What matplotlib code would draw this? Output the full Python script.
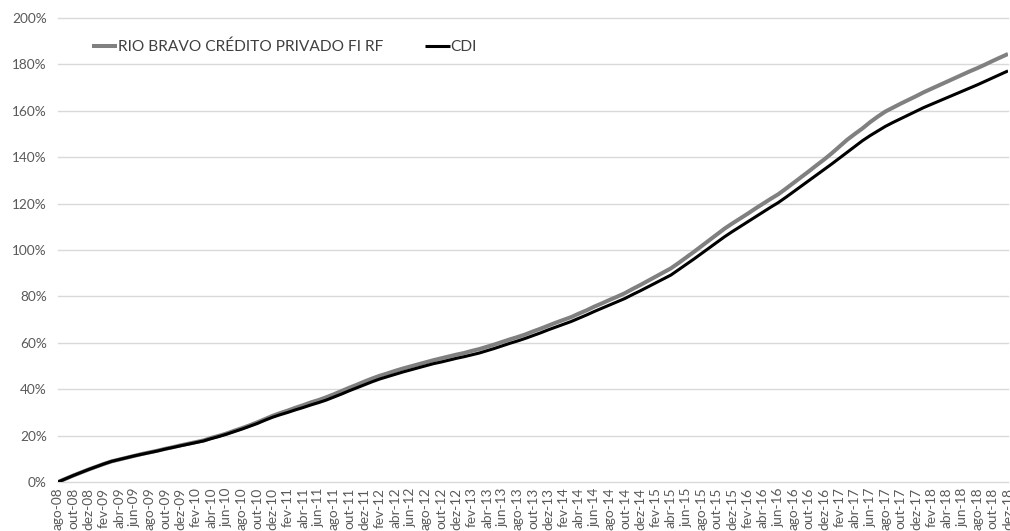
import matplotlib
matplotlib.use("Agg")
import matplotlib.pyplot as plt

plt.rcParams['font.family'] = ['Lato', 'DejaVu Sans']

month_abbr = ["jan", "fev", "mar", "abr", "mai", "jun", "jul", "ago", "set", "out", "nov", "dez"]
# monthly categories ago-08 .. dez-18
categories = []
for yr in range(2008, 2019):
    for mi, mn in enumerate(month_abbr):
        if yr == 2008 and mi < 7:
            continue
        categories.append(f"{mn}-{str(yr)[2:]}")

cdi = [0, 1.4, 2.8, 4.1, 5.4, 6.6, 7.8, 8.9, 9.7, 10.5,
       11.3, 12.0, 12.7, 13.4, 14.2, 14.9, 15.6, 16.3, 17.0, 17.7,
       18.7, 19.6, 20.6, 21.7, 22.8, 24.0, 25.2, 26.6, 27.9, 29.0,
       30.0, 31.1, 32.1, 33.2, 34.2, 35.3, 36.6, 37.9, 39.3, 40.6,
       41.9, 43.2, 44.4, 45.4, 46.4, 47.4, 48.3, 49.2, 50.1, 51.0,
       51.7, 52.5, 53.3, 54.0, 54.8, 55.6, 56.6, 57.6, 58.7, 59.8,
       60.8, 61.9, 63.1, 64.3, 65.6, 66.8, 68.0, 69.2, 70.6, 72.0,
       73.5, 74.9, 76.3, 77.7, 79.1, 80.8, 82.4, 84.1, 85.8, 87.5,
       89.2, 91.5, 93.8, 96.1, 98.5, 100.9, 103.3, 105.7, 107.9, 110.0,
       112.1, 114.2, 116.3, 118.4, 120.4, 122.7, 125.1, 127.5, 129.9, 132.3,
       134.7, 137.1, 139.6, 142.1, 144.6, 147.1, 149.3, 151.3, 153.3, 155.0,
       156.6, 158.2, 159.8, 161.4, 162.8, 164.2, 165.6, 167.0, 168.4, 169.8,
       171.2, 172.7, 174.2, 175.7, 177.2]

rio_bravo = [0, 1.4, 2.8, 4.1, 5.4, 6.6, 7.8, 8.9, 9.7, 10.5,
             11.3, 12.1, 12.8, 13.5, 14.3, 15.0, 15.8, 16.5, 17.2, 17.9,
             19.0, 19.9, 20.9, 22.1, 23.2, 24.4, 25.7, 27.1, 28.5, 29.7,
             30.8, 32.0, 33.1, 34.3, 35.3, 36.5, 37.8, 39.2, 40.6, 41.9,
             43.3, 44.6, 45.8, 46.8, 47.9, 48.9, 49.8, 50.7, 51.6, 52.5,
             53.3, 54.1, 54.9, 55.6, 56.5, 57.3, 58.3, 59.3, 60.4, 61.5,
             62.5, 63.6, 64.9, 66.1, 67.4, 68.7, 69.9, 71.1, 72.6, 74.0,
             75.6, 77.0, 78.5, 79.9, 81.4, 83.2, 84.9, 86.7, 88.5, 90.3,
             92.1, 94.4, 96.8, 99.2, 101.7, 104.2, 106.7, 109.2, 111.4, 113.5,
             115.6, 117.8, 119.9, 122.0, 124.0, 126.4, 128.9, 131.4, 133.9, 136.5,
             139.0, 141.7, 144.6, 147.5, 150.0, 152.4, 155.1, 157.5, 159.7, 161.4,
             163.1, 164.7, 166.3, 168.0, 169.5, 171.0, 172.5, 174.0, 175.5, 177.0,
             178.4, 179.9, 181.5, 183.0, 184.5]

y_ticks = [0, 20, 40, 60, 80, 100, 120, 140, 160, 180, 200]

fig = plt.figure(figsize=(10.10, 5.31), dpi=100)
ax = fig.add_axes([58 / 1010, 1 - 482 / 531, (1008 - 58) / 1010, (482 - 18) / 531])

x = list(range(len(categories)))
ax.plot(x, rio_bravo, color="#808080", lw=2.9, label="RIO BRAVO CRÉDITO PRIVADO FI RF",
        zorder=3, solid_capstyle="butt")
ax.plot(x, cdi, color="#000000", lw=2.2, label="CDI", zorder=4, solid_capstyle="butt")

ax.set_xlim(0, len(categories) - 1)
ax.set_ylim(0, 200)
ax.set_yticks(y_ticks)
ax.set_yticklabels([f"{v}%" for v in y_ticks])
ax.set_xticks(x[::2])
ax.set_xticklabels(categories[::2], rotation=90, va="top", ha="center")

ax.grid(axis="y", color="#d9d9d9", lw=1.0, clip_on=False)
ax.set_axisbelow(True)
for s in ax.spines.values():
    s.set_visible(False)
ax.tick_params(axis="both", length=0, colors="#595959", labelsize=9.8)
ax.tick_params(axis="y", pad=8)
ax.tick_params(axis="x", pad=4)

leg = ax.legend(loc="center left", bbox_to_anchor=(92 / 1010, 1 - 47 / 531),
                bbox_transform=fig.transFigure, ncol=2, frameon=False,
                handlelength=1.6, handletextpad=0.05, columnspacing=2.7,
                fontsize=11.2, borderaxespad=0, borderpad=0)
for t in leg.get_texts():
    t.set_color("#404040")

fig.savefig("out.png", dpi=100)
